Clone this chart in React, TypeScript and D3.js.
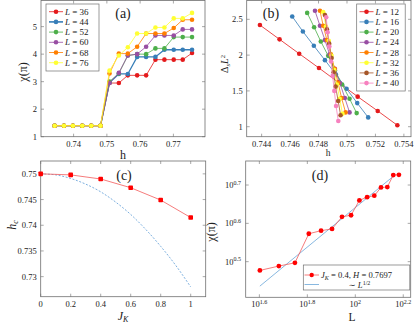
import React, { useEffect, useRef } from 'react';
import * as d3 from 'd3';

// ---- panel (a): chi(pi) vs h ----
const hA = [0.7343, 0.7371, 0.7398, 0.7426, 0.7453, 0.7481, 0.7508, 0.7536, 0.7563, 0.7591, 0.7618, 0.7646, 0.7673, 0.7701, 0.7728, 0.7756];
const chiA36 = [1.4, 1.4, 1.4, 1.4, 1.4, 1.4, 2.95, 2.95, 3.23, 3.23, 3.23, 3.8, 3.8, 3.8, 3.8, 4.04];
const chiA44 = [1.4, 1.4, 1.4, 1.4, 1.4, 1.4, 2.97, 3.28, 3.28, 3.9, 3.9, 3.9, 4.16, 4.16, 4.16, 4.16];
const chiA52 = [1.4, 1.4, 1.4, 1.4, 1.4, 1.4, 3.0, 3.3, 3.95, 4.0, 4.0, 4.21, 4.21, 4.62, 4.62, 4.62];
const chiA60 = [1.4, 1.4, 1.4, 1.4, 1.4, 1.4, 2.95, 3.32, 3.95, 4.0, 4.27, 4.68, 4.68, 4.68, 4.9, 4.9];
const chiA68 = [1.4, 1.4, 1.4, 1.4, 1.4, 1.4, 3.3, 4.02, 4.02, 4.27, 4.75, 4.75, 4.75, 4.95, 5.25, 5.25];
const chiA76 = [1.4, 1.4, 1.4, 1.4, 1.4, 1.4, 3.4, 3.95, 4.25, 4.75, 4.75, 4.97, 4.97, 5.3, 5.3, 5.5];
const sizesA = ['36', '44', '52', '60', '68', '76'];

// ---- panel (b): Delta_s L^2 vs h ----
const hB12 = [0.74388, 0.74526, 0.74664, 0.74803, 0.74939, 0.75075, 0.75216, 0.75354];
const dB12 = [2.42, 2.22, 2.02, 1.82, 1.62, 1.42, 1.22, 1.02];
const hB16 = [0.74615, 0.7469, 0.74767, 0.74845, 0.74922, 0.74997, 0.75072, 0.75149];
const dB16 = [2.54, 2.33, 2.13, 1.93, 1.73, 1.53, 1.33, 1.13];
const hB20 = [0.7472, 0.74769, 0.74816, 0.74868, 0.74915, 0.74966, 0.75018, 0.75068];
const dB20 = [2.59, 2.39, 2.19, 1.99, 1.79, 1.59, 1.39, 1.19];
const hB24 = [0.74775, 0.7481, 0.74845, 0.74878, 0.74915, 0.7495, 0.74985, 0.75018];
const dB24 = [2.62, 2.41, 2.21, 2.01, 1.81, 1.61, 1.4, 1.2];
const hB28 = [0.7481, 0.74833, 0.74859, 0.74887, 0.74913, 0.74938, 0.74962, 0.7499];
const dB28 = [2.62, 2.41, 2.21, 2.01, 1.81, 1.61, 1.4, 1.2];
const hB32 = [0.74833, 0.74852, 0.74872, 0.74891, 0.7491, 0.74929, 0.74949, 0.74968];
const dB32 = [2.6, 2.4, 2.2, 1.99, 1.79, 1.59, 1.39, 1.18];
const hB36 = [0.74845, 0.74859, 0.74875, 0.74892, 0.74906, 0.7492, 0.74938, 0.74955];
const dB36 = [2.56, 2.36, 2.16, 1.96, 1.76, 1.56, 1.36, 1.16];
const hB40 = [0.74854, 0.74864, 0.74876, 0.74888, 0.74899, 0.74911, 0.74923, 0.74939];
const dB40 = [2.53, 2.32, 2.12, 1.91, 1.71, 1.5, 1.29, 1.08];
const sizesB = ['12', '16', '20', '24', '28', '32', '36', '40'];

// ---- panel (c): h_c vs J_K ----
const jkC = [0, 0.2, 0.4, 0.6, 0.8, 1];
const hcC = [0.75, 0.7498, 0.749, 0.7473, 0.7449, 0.7415];
const jkFit = [0, 0.1, 0.2, 0.3, 0.4, 0.5, 0.6, 0.7, 0.8, 0.9, 1];
const hcFit = [0.75, 0.7498, 0.7491, 0.748, 0.7465, 0.7445, 0.7421, 0.7392, 0.7359, 0.7322, 0.728];

// ---- panel (d): chi(pi) vs L (log-log) ----
const lD = [40, 48, 56, 64, 72, 80, 88, 96, 104, 112, 120, 128, 136, 144, 152];
const chiD = [3.0, 3.08, 3.14, 3.74, 3.81, 3.85, 4.14, 4.18, 4.57, 4.66, 4.7, 4.94, 4.95, 5.32, 5.33];
const lFit = [40, 145];
const chiFit = [2.73, 5.3];

const colors = ['#e41a1c', '#377eb8', '#4daf4a', '#984ea3', '#ff7f00', '#ffff33', '#a65628', '#f781bf'];
const FONT = '"Liberation Serif", "DejaVu Serif", serif';
const BOX = '#6f6f6f';
const TICK_FS = 8.5;

type Sel = d3.Selection<SVGGElement, unknown, null, undefined>;

// box with inward ticks on all four sides
function frame(g: Sel, x: any, y: any, xt: number[], yt: number[]) {
  const [x0, x1] = x.range();
  const [y0, y1] = y.range();
  g.append('rect')
    .attr('x', x0).attr('y', y1)
    .attr('width', x1 - x0).attr('height', y0 - y1)
    .attr('fill', 'none').attr('stroke', BOX).attr('stroke-width', 0.8);
  xt.forEach((t) => {
    const px = x(t);
    g.append('line').attr('x1', px).attr('x2', px).attr('y1', y0).attr('y2', y0 - 3).attr('stroke', BOX).attr('stroke-width', 0.6);
    g.append('line').attr('x1', px).attr('x2', px).attr('y1', y1).attr('y2', y1 + 3).attr('stroke', BOX).attr('stroke-width', 0.6);
  });
  yt.forEach((t) => {
    const py = y(t);
    g.append('line').attr('x1', x0).attr('x2', x0 + 3).attr('y1', py).attr('y2', py).attr('stroke', BOX).attr('stroke-width', 0.6);
    g.append('line').attr('x1', x1).attr('x2', x1 - 3).attr('y1', py).attr('y2', py).attr('stroke', BOX).attr('stroke-width', 0.6);
  });
}

function tickLabels(g: Sel, x: any, y: any, xt: number[], yt: number[], fx: (v: number) => string, fy: (v: number) => string) {
  const y0 = y.range()[0];
  const x0 = x.range()[0];
  xt.forEach((t) => {
    g.append('text').attr('x', x(t)).attr('y', y0 + 10).attr('text-anchor', 'middle')
      .attr('font-size', TICK_FS).attr('font-family', FONT).attr('fill', '#222').text(fx(t));
  });
  yt.forEach((t) => {
    g.append('text').attr('x', x0 - 4).attr('y', y(t) + 3).attr('text-anchor', 'end')
      .attr('font-size', TICK_FS).attr('font-family', FONT).attr('fill', '#222').text(fy(t));
  });
}

function series(g: Sel, x: any, y: any, xs: number[], ys: number[], color: string, width = 0.8) {
  const pts = xs.map((v, i) => [x(v), y(ys[i])] as [number, number]);
  g.append('path').attr('d', d3.line()(pts)).attr('fill', 'none').attr('stroke', color).attr('stroke-width', width);
  g.selectAll(null).data(pts).enter().append('circle')
    .attr('cx', (p) => p[0]).attr('cy', (p) => p[1]).attr('r', 2.3).attr('fill', color);
}

function label(g: Sel, txt: string, px: number, py: number, size: number) {
  g.append('text').attr('x', px).attr('y', py).attr('text-anchor', 'middle')
    .attr('font-size', size).attr('font-family', FONT).attr('fill', '#222').text(txt);
}

function legendRow(g: Sel, x: number, y: number, color: string, size: string, width = 0.8) {
  g.append('line').attr('x1', x).attr('x2', x + 14).attr('y1', y).attr('y2', y).attr('stroke', color).attr('stroke-width', width);
  g.append('circle').attr('cx', x + 7).attr('cy', y).attr('r', 2.3).attr('fill', color);
  const t = g.append('text').attr('x', x + 16).attr('y', y + 3).attr('font-size', 9).attr('font-family', FONT).attr('fill', '#222');
  t.append('tspan').attr('font-style', 'italic').text('L');
  t.append('tspan').text(` = ${size}`);
}

const App = () => {
  const ref = useRef<SVGSVGElement>(null);

  useEffect(() => {
    if (!ref.current) return;
    const svg = d3.select(ref.current);
    svg.selectAll('*').remove();
    const root = svg.append('g') as Sel;

    // ---------- (a) ----------
    {
      const g = root.append('g') as Sel;
      const x = d3.scaleLinear().domain([0.7302, 0.7795]).range([41, 205]);
      const y = d3.scaleLinear().domain([1, 5.95]).range([136.7, 0.5]);
      const xt = [0.74, 0.75, 0.76, 0.77];
      const yt = [1, 2, 3, 4, 5];
      frame(g, x, y, xt, yt);
      tickLabels(g, x, y, xt, yt, d3.format('.2f'), d3.format('d'));
      const all = [chiA36, chiA44, chiA52, chiA60, chiA68, chiA76];
      all.forEach((s, i) => series(g, x, y, hA, s, colors[i], i === 1 ? 1.3 : 0.8));
      g.append('rect').attr('x', 46).attr('y', 4).attr('width', 53).attr('height', 67)
        .attr('fill', 'white').attr('stroke', BOX).attr('stroke-width', 0.7);
      sizesA.forEach((s, i) => legendRow(g, 49, 11.7 + i * 10.2, colors[i], s, i === 1 ? 1.6 : 0.8));
      label(g, '(a)', 123, 18, 14);
      g.append('text').attr('transform', 'translate(27,72) rotate(-90)').attr('text-anchor', 'middle')
        .attr('font-size', 12).attr('font-family', FONT).attr('fill', '#222').text('χ(π)');
      label(g, 'h', 123, 159, 12);
    }

    // ---------- (b) ----------
    {
      const g = root.append('g') as Sel;
      const x = d3.scaleLinear().domain([0.74295, 0.7545]).range([246.7, 411]);
      const y = d3.scaleLinear().domain([0.8603, 2.763]).range([136.7, 0.5]);
      const xt = [0.744, 0.746, 0.748, 0.75, 0.752, 0.754];
      const yt = [1, 1.5, 2, 2.5];
      frame(g, x, y, xt, yt);
      tickLabels(g, x, y, xt, yt, (v) => String(+v.toFixed(3)), (v) => String(v));
      const hs = [hB12, hB16, hB20, hB24, hB28, hB32, hB36, hB40];
      const ds = [dB12, dB16, dB20, dB24, dB28, dB32, dB36, dB40];
      hs.forEach((h, i) => series(g, x, y, h, ds[i], colors[i]));
      g.append('rect').attr('x', 356.7).attr('y', 4).attr('width', 48.5).attr('height', 87)
        .attr('fill', 'white').attr('stroke', BOX).attr('stroke-width', 0.7);
      sizesB.forEach((s, i) => legendRow(g, 359.5, 11.7 + i * 10.2, colors[i], s));
      label(g, '(b)', 271, 18, 14);
      const yl = g.append('text').attr('transform', 'translate(228,64) rotate(-90)').attr('text-anchor', 'middle')
        .attr('font-size', 10).attr('font-family', FONT).attr('fill', '#222');
      yl.append('tspan').text('Δ');
      yl.append('tspan').attr('font-size', 6.5).attr('font-style', 'italic').attr('dy', 2).text('s');
      yl.append('tspan').attr('font-style', 'italic').attr('dy', -2).text('L');
      yl.append('tspan').attr('font-size', 6.5).attr('dy', -3.5).text('2');
      label(g, 'h', 328, 156, 9.5);
    }

    // ---------- (c) ----------
    {
      const g = root.append('g') as Sel;
      const x = d3.scaleLinear().domain([0, 1.1]).range([40.7, 205.7]);
      const y = d3.scaleLinear().domain([0.7261, 0.7525]).range([296.7, 161]);
      const xt = [0, 0.2, 0.4, 0.6, 0.8, 1];
      const yt = [0.73, 0.735, 0.74, 0.745, 0.75];
      frame(g, x, y, xt, yt);
      tickLabels(g, x, y, xt, yt, (v) => String(v), (v) => String(+v.toFixed(3)));
      const fit = jkFit.map((v, i) => [x(v), y(hcFit[i])] as [number, number]);
      g.append('path').attr('d', d3.line().curve(d3.curveMonotoneX)(fit)).attr('fill', 'none')
        .attr('stroke', '#5b9bd5').attr('stroke-width', 0.8).attr('stroke-dasharray', '2,1.6');
      const pts = jkC.map((v, i) => [x(v), y(hcC[i])] as [number, number]);
      g.append('path').attr('d', d3.line()(pts)).attr('fill', 'none').attr('stroke', '#f25a5a').attr('stroke-width', 0.8);
      g.selectAll(null).data(pts).enter().append('rect')
        .attr('x', (p) => p[0] - 2.3).attr('y', (p) => p[1] - 2.3).attr('width', 4.6).attr('height', 4.6)
        .attr('rx', 0.8).attr('fill', '#ff0000');
      label(g, '(c)', 124, 180, 14);
      const yl = g.append('text').attr('transform', 'translate(16,225) rotate(-90)').attr('text-anchor', 'middle')
        .attr('font-size', 12).attr('font-family', FONT).attr('fill', '#222');
      yl.append('tspan').attr('font-style', 'italic').text('h');
      yl.append('tspan').attr('font-style', 'italic').attr('font-size', 8).attr('dy', 2).text('c');
      const xl = g.append('text').attr('x', 123).attr('y', 320).attr('text-anchor', 'middle')
        .attr('font-size', 12).attr('font-family', FONT).attr('fill', '#222');
      xl.append('tspan').attr('font-style', 'italic').text('J');
      xl.append('tspan').attr('font-style', 'italic').attr('font-size', 8).attr('dy', 2).text('K');
    }

    // ---------- (d) ----------
    {
      const g = root.append('g') as Sel;
      const x = d3.scaleLog().domain([Math.pow(10, 1.543), Math.pow(10, 2.231)]).range([245.7, 410.7]);
      const y = d3.scaleLog().domain([Math.pow(10, 0.407), Math.pow(10, 0.7627)]).range([297.3, 161]);
      const xe = [1.6, 1.8, 2, 2.2];
      const ye = [0.5, 0.6, 0.7];
      const xt = xe.map((e) => Math.pow(10, e));
      const yt = ye.map((e) => Math.pow(10, e));
      frame(g, x, y, xt, yt);
      xe.forEach((e) => {
        const t = g.append('text').attr('x', x(Math.pow(10, e))).attr('y', 307).attr('text-anchor', 'middle')
          .attr('font-size', TICK_FS).attr('font-family', FONT).attr('fill', '#222');
        t.append('tspan').text('10');
        t.append('tspan').attr('font-size', 6).attr('dy', -3.5).text(String(e));
      });
      ye.forEach((e) => {
        const t = g.append('text').attr('x', 241).attr('y', y(Math.pow(10, e)) + 3).attr('text-anchor', 'end')
          .attr('font-size', TICK_FS).attr('font-family', FONT).attr('fill', '#222');
        t.append('tspan').text('10');
        t.append('tspan').attr('font-size', 6).attr('dy', -3.5).text(String(e));
      });
      const fit = lFit.map((v, i) => [x(v), y(chiFit[i])] as [number, number]);
      g.append('path').attr('d', d3.line()(fit)).attr('fill', 'none').attr('stroke', '#6aa6d8').attr('stroke-width', 0.8);
      const pts = lD.map((v, i) => [x(v), y(chiD[i])] as [number, number]);
      g.append('path').attr('d', d3.line()(pts)).attr('fill', 'none').attr('stroke', '#f25a5a').attr('stroke-width', 0.8);
      g.selectAll(null).data(pts).enter().append('circle')
        .attr('cx', (p) => p[0]).attr('cy', (p) => p[1]).attr('r', 2.4).attr('fill', '#ff0000');
      // legend
      g.append('rect').attr('x', 303.3).attr('y', 265).attr('width', 106.5).attr('height', 25)
        .attr('fill', 'white').attr('stroke', BOX).attr('stroke-width', 0.7);
      g.append('line').attr('x1', 304.5).attr('x2', 319).attr('y1', 275).attr('y2', 275).attr('stroke', '#f25a5a').attr('stroke-width', 0.8);
      g.append('circle').attr('cx', 311.7).attr('cy', 275).attr('r', 2.2).attr('fill', '#ff0000');
      const t1 = g.append('text').attr('x', 321).attr('y', 278).attr('font-size', 8.6).attr('font-family', FONT).attr('fill', '#222');
      t1.append('tspan').attr('font-style', 'italic').text('J');
      t1.append('tspan').attr('font-style', 'italic').attr('font-size', 6).attr('dy', 1.5).text('K');
      t1.append('tspan').attr('dy', -1.5).text(' = 0.4, ');
      t1.append('tspan').attr('font-style', 'italic').text('H');
      t1.append('tspan').text(' = 0.7697');
      g.append('line').attr('x1', 304.5).attr('x2', 319).attr('y1', 284.5).attr('y2', 284.5).attr('stroke', '#6aa6d8').attr('stroke-width', 0.8);
      const t2 = g.append('text').attr('x', 348.5).attr('y', 288).attr('font-size', 8.6).attr('font-family', FONT).attr('fill', '#222');
      t2.append('tspan').text('∼ ');
      t2.append('tspan').attr('font-style', 'italic').text('L');
      t2.append('tspan').attr('font-size', 6).attr('dy', -3.5).text('1/2');
      label(g, '(d)', 320, 180, 14);
      g.append('text').attr('transform', 'translate(215,232) rotate(-90)').attr('text-anchor', 'middle')
        .attr('font-size', 12).attr('font-family', FONT).attr('fill', '#222').text('χ(π)');
      label(g, 'L', 352, 321, 11.5);
    }
  }, []);

  return (
    <svg ref={ref} width={415} height={325}
      style={{ position: 'absolute', left: 0, top: 0, background: 'white' }} />
  );
};

export default App;
